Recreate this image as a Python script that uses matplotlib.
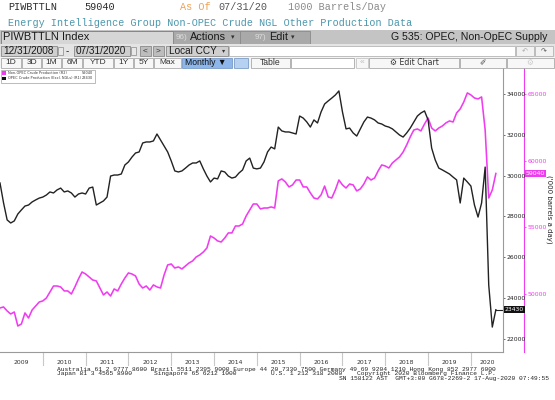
import matplotlib
matplotlib.use("Agg")
import matplotlib.pyplot as plt
import matplotlib.transforms as mtransforms
from matplotlib.patches import Rectangle

# ---------------- data (monthly, Dec 2008 .. Jul 2020) ----------------
start_label = "12/31/2008"
end_label = "07/31/2020"
years = ["2009", "2010", "2011", "2012", "2013", "2014", "2015", "2016",
         "2017", "2018", "2019", "2020"]

opec = [29640, 28660, 27830, 27680, 27780, 28120, 28320, 28510, 28560, 28710,
        28810, 28900, 28950, 29050, 29200, 29150, 29300, 29390, 29200, 29250,
        29150, 28950, 29100, 29150, 29100, 29390, 29440, 28560, 28660, 28760,
        28950, 29980, 30030, 30030, 30080, 30520, 30670, 30910, 31110, 31160,
        31600, 31650, 31650, 31700, 32040, 31750, 31450, 31160, 30720, 30230,
        30180, 30230, 30370, 30520, 30620, 30620, 30720, 30330, 29980, 29690,
        29880, 29840, 30230, 30180, 29980, 29880, 29930, 30130, 30280, 30720,
        30860, 30370, 30330, 30370, 30670, 31160, 31400, 31310, 32380, 32190,
        32140, 32140, 32090, 32040, 32920, 32820, 32630, 32380, 32730, 32580,
        33120, 33510, 33660, 33800, 33950, 34150, 33120, 32290, 32330, 32090,
        31940, 32290, 32630, 32870, 32820, 32730, 32580, 32530, 32430, 32380,
        32290, 32140, 31990, 31890, 32090, 32330, 32630, 32920, 33070, 33170,
        32730, 31350, 30770, 30370, 30280, 30180, 30080, 29930, 29790, 28660,
        29880, 29690, 29490, 28560, 27970, 28660, 30420, 24640, 22580, 23430]

non_opec = [48950, 49030, 48730, 48500, 48650, 47600, 47750, 48580, 48200, 48800,
            49100, 49400, 49480, 49700, 50150, 50600, 50600, 50530, 50230, 50230,
            50000, 50530, 51130, 51650, 51500, 51280, 51050, 50980, 50450, 49930,
            50150, 49850, 50380, 50230, 50750, 51200, 51580, 51500, 51350, 50750,
            50450, 50600, 50300, 50680, 50530, 50450, 51430, 52180, 52250, 51950,
            52030, 51880, 52100, 52330, 52480, 52780, 52930, 53150, 53450, 54350,
            54200, 53980, 53900, 54200, 54580, 54580, 55100, 55100, 55250, 55850,
            56300, 56750, 56750, 56380, 56450, 56450, 56530, 56450, 58480, 58630,
            58400, 58030, 58180, 58550, 58550, 58030, 58030, 57580, 57200, 57130,
            57430, 58100, 57280, 57200, 57800, 58550, 58180, 57950, 58250, 58180,
            57730, 57880, 58250, 58780, 58550, 58700, 59230, 59680, 59600, 59450,
            59830, 60050, 60280, 60650, 61180, 61780, 62300, 62380, 62230, 62750,
            63200, 62450, 62230, 62450, 62600, 62830, 62980, 62900, 63580, 63880,
            64400, 65080, 64930, 64700, 64630, 64780, 62300, 57200, 57800, 59040]

opec_ticks = [22000, 24000, 26000, 28000, 30000, 32000, 34000]
nonopec_ticks = [50000, 55000, 60000, 65000]
opec_name = "OPEC Crude Production (Excl. NGLs) (R1)"
nonopec_name = "Non-OPEC Crude Production (R2)"

PINK = "#f03cf0"
BLACK = "#222222"
GRAYLINE = "#9a9a9a"

W, H = 555, 400
fig = plt.figure(figsize=(W / 100, H / 100), dpi=100)
fig.patch.set_facecolor("white")


def X(px):
    return px / W


def Y(py):
    return 1 - py / H


def frect(x0, y0, x1, y1, fc, ec="none", lw=0.6, z=1):
    fig.patches.append(Rectangle((X(x0), Y(y1)), X(x1) - X(x0), Y(y0) - Y(y1),
                                 transform=fig.transFigure, facecolor=fc,
                                 edgecolor=ec, linewidth=lw, zorder=z))


def ftext(px, py, s, **kw):
    kw.setdefault("va", "center")
    fig.text(X(px), Y(py), s, **kw)


MONO = "Liberation Mono"
SANS = "Liberation Sans"

# ---------------- header lines ----------------
ftext(8, 7, "PIWBTTLN", family=MONO, fontsize=7.3, color="#2a2a2a")
ftext(84, 7, "59040", family=MONO, fontsize=7.3, color="#2a2a2a")
ftext(180, 7, "As Of", family=MONO, fontsize=7.3, color="#f0a050")
ftext(218, 7, "07/31/20", family=MONO, fontsize=7.3, color="#555555")
ftext(288, 7, "1000 Barrels/Day", family=MONO, fontsize=7.3, color="#8a8a8a")
ftext(8, 23, "Energy Intelligence Group Non-OPEC Crude NGL Other Production Data",
      family=MONO, fontsize=7.3, color="#4b97ad")

# ---------------- toolbar row 3 ----------------
frect(0, 30, 555, 44, "#c4c4c4")
frect(0.5, 30.5, 173, 43.5, "#d6d6d6", ec="#7a7a7a")
ftext(3, 37.2, "PIWBTTLN Index", family=SANS, fontsize=8.0, color="#1a1a1a")
frect(173, 30.5, 240, 43.5, "#a9a9a9", ec="#8a8a8a")
ftext(176, 37.2, "96)", family=SANS, fontsize=5.8, color="#dddddd")
ftext(190, 37.2, "Actions", family=SANS, fontsize=7.8, color="#1a1a1a")
ftext(231, 37.5, "\u25be", family="DejaVu Sans", fontsize=5, color="#333333")
frect(240, 30.5, 310, 43.5, "#a9a9a9", ec="#8a8a8a")
ftext(255, 37.2, "97)", family=SANS, fontsize=5.8, color="#dddddd")
ftext(269, 37.2, "Edit", family=SANS, fontsize=7.8, color="#1a1a1a")
ftext(291, 37.5, "\u25be", family="DejaVu Sans", fontsize=5, color="#333333")
ftext(547, 37.2, "G 535: OPEC, Non-OpEC Supply", family=SANS, fontsize=7.6,
      color="#1a1a1a", ha="right")

# ---------------- toolbar row 4 ----------------
frect(0, 44, 555, 57, "#e4e4e4")
frect(1, 45.5, 57, 56, "#cfcfcf", ec="#8a8a8a")
ftext(3, 51, start_label, family=SANS, fontsize=7.2, color="#1a1a1a")
frect(57.5, 46.5, 63, 55, "#e8e8e8", ec="#8a8a8a", lw=0.5)
ftext(66, 51, "-", family=SANS, fontsize=7, color="#1a1a1a")
frect(74, 45.5, 130, 56, "#cfcfcf", ec="#8a8a8a")
ftext(76, 51, end_label, family=SANS, fontsize=7.2, color="#1a1a1a")
frect(130.5, 46.5, 136, 55, "#e8e8e8", ec="#8a8a8a", lw=0.5)
frect(140, 46, 151, 55.5, "#bdbdbd", ec="#8a8a8a")
ftext(145.5, 50.7, "<", family=SANS, fontsize=6, color="#333333", ha="center")
frect(153, 46, 164, 55.5, "#bdbdbd", ec="#8a8a8a")
ftext(158.5, 50.7, ">", family=SANS, fontsize=6, color="#333333", ha="center")
frect(166, 45.5, 228, 56, "#cfcfcf", ec="#8a8a8a")
ftext(169, 51, "Local CCY", family=SANS, fontsize=7.2, color="#1a1a1a")
ftext(222, 51, "\u25be", family="DejaVu Sans", fontsize=4.5, color="#333333")
frect(229, 45.5, 515, 56, "white", ec="#aaaaaa", lw=0.5)
frect(516, 45.5, 534, 56, "#f2f2f2", ec="#aaaaaa", lw=0.5)
frect(535, 45.5, 553, 56, "#f2f2f2", ec="#aaaaaa", lw=0.5)
ftext(525, 51, "\u21b6", family="DejaVu Sans", fontsize=5, color="#aaaaaa", ha="center")
ftext(544, 51, "\u21b7", family="DejaVu Sans", fontsize=5, color="#555555", ha="center")

# ---------------- toolbar row 5 ----------------
frect(0, 57, 555, 68, "#f4f4f4")
buttons = [(1, 21, "1D"), (22, 41, "3D"), (42, 61, "1M"), (62, 82, "6M"),
           (83, 113, "YTD"), (114, 133, "1Y"), (134, 153, "5Y"), (154, 181, "Max")]
for x0, x1, lab in buttons:
    frect(x0, 58, x1, 67.5, "#f7f7f7", ec="#9a9a9a", lw=0.5)
    ftext((x0 + x1) / 2, 62.8, lab, family=SANS, fontsize=6.0, color="#333333",
          ha="center")
frect(182, 58, 232, 67.5, "#8db7ea", ec="#6a8fc0", lw=0.5)
ftext(185, 62.8, "Monthly \u25bc", family=SANS, fontsize=6.2, color="#111111")
frect(234, 58, 248, 67.5, "#b7d1f0", ec="#6a8fc0", lw=0.5)
frect(251, 58, 290, 67.5, "#f7f7f7", ec="#9a9a9a", lw=0.5)
ftext(270.5, 62.8, "Table", family=SANS, fontsize=6.2, color="#333333", ha="center")
frect(291, 58, 354, 67.5, "white", ec="#9a9a9a", lw=0.5)
frect(356, 58, 368, 67.5, "#f7f7f7", ec="#bbbbbb", lw=0.5)
ftext(362, 62.8, "\u00ab", family=SANS, fontsize=6, color="#bbbbbb", ha="center")
frect(369, 58, 459, 67.5, "#f7f7f7", ec="#9a9a9a", lw=0.5)
ftext(414, 62.8, "\u2699 Edit Chart", family="DejaVu Sans", fontsize=5.6,
      color="#333333", ha="center")
frect(460, 58, 506, 67.5, "#f7f7f7", ec="#9a9a9a", lw=0.5)
ftext(483, 62.8, "\u2710", family="DejaVu Sans", fontsize=5.5, color="#444444", ha="center")
frect(507, 58, 554, 67.5, "#f7f7f7", ec="#9a9a9a", lw=0.5)
ftext(530, 62.8, "\u2699", family="DejaVu Sans", fontsize=5.5, color="#cccccc", ha="center")

# ---------------- chart ----------------
TOP, BOT, RIGHT = 68, 352, 503
ax = fig.add_axes([X(0), Y(BOT), X(RIGHT), (BOT - TOP) / H])
ax.set_facecolor("white")
ax2 = ax.twinx()
ax.set_zorder(ax2.get_zorder() + 1)
ax.patch.set_visible(False)

months = list(range(len(opec)))
ax2.plot(months, non_opec, color=PINK, lw=1.15, solid_joinstyle="round")
ax.plot(months, opec, color=BLACK, lw=1.0, solid_joinstyle="round")

ax.set_xlim(0, 141)
ax.set_ylim(21358, 35274)
ax2.set_ylim(45650, 66950)

for a in (ax, ax2):
    for s in ("left", "top"):
        a.spines[s].set_visible(False)
    a.set_xticks([])
ax.spines["bottom"].set_color(GRAYLINE)
ax.spines["bottom"].set_linewidth(0.8)
ax2.spines["bottom"].set_visible(False)
ax.spines["right"].set_color(GRAYLINE)
ax.spines["right"].set_linewidth(0.8)

ax.yaxis.tick_right()
ax.set_yticks(opec_ticks)
ax.set_yticklabels([str(t) for t in opec_ticks])
ax.tick_params(axis="y", length=1.6, width=0.6, color="#555555", pad=1.0,
               labelsize=4.4, labelcolor="#222222")

ax2.spines["right"].set_position(("axes", 524 / RIGHT))
ax2.spines["right"].set_color(PINK)
ax2.spines["right"].set_linewidth(0.8)
ax2.set_yticks(nonopec_ticks)
ax2.set_yticklabels([str(t) for t in nonopec_ticks])
ax2.tick_params(axis="y", length=1.6, width=0.6, color=PINK, pad=1.0,
                labelsize=4.4, labelcolor=PINK)

fig.text(X(549), Y(209), "('000 barrels a day)", rotation=270, fontsize=5.0,
         color="#222222", ha="center", va="center", family="DejaVu Sans")

# year separators and labels
blend = mtransforms.blended_transform_factory(ax.transData, ax.transAxes)
dy = 13 / (BOT - TOP)
for k in range(1, len(years)):
    ax.plot([12 * k, 12 * k], [0, -dy], transform=blend, color="#c8c8c8",
            lw=0.8, clip_on=False)
for k, yr in enumerate(years):
    c = 12 * k + 6 if k < len(years) - 1 else (12 * k + 141) / 2
    ax.text(c, -10 / (BOT - TOP), yr, transform=blend, ha="center", va="center",
            fontsize=4.4, color="#333333")

# last-value labels
last_o = opec[-1]
last_n = non_opec[-1]
ax.plot([months[-1], 141], [last_o, last_o], color=BLACK, lw=0.8, clip_on=False)
ax.annotate(str(last_o), xy=(1.0, last_o), xycoords=("axes fraction", "data"),
            xytext=(1.3, 0), textcoords="offset points", ha="left", va="center",
            fontsize=4.4, color="white",
            bbox=dict(boxstyle="square,pad=0.15", fc="#111111", ec="none"))
ax2.annotate(str(last_n), xy=(524 / RIGHT, last_n), xycoords=("axes fraction", "data"),
             xytext=(1.3, 0), textcoords="offset points", ha="left", va="center",
             fontsize=4.4, color="white",
             bbox=dict(boxstyle="square,pad=0.15", fc=PINK, ec="none"))

# legend box
frect(0.5, 70, 95, 83, "white", ec="#a0a0a0", lw=0.5, z=5)
frect(2, 71.5, 5.5, 75, PINK, z=6)
frect(2, 76.5, 5.5, 80, "#111111", z=6)
fig.text(X(7.5), Y(73.3), nonopec_name, fontsize=2.5, color="#333333", va="center", zorder=7)
fig.text(X(7.5), Y(78.3), opec_name, fontsize=2.5, color="#333333", va="center", zorder=7)
fig.text(X(93), Y(73.3), str(last_n), fontsize=2.5, color="#333333", va="center",
         ha="right", zorder=7)
fig.text(X(93), Y(78.3), str(last_o), fontsize=2.5, color="#333333", va="center",
         ha="right", zorder=7)

# footer
FOOT = "#222222"
ftext(57, 370, "Australia 61 2 9777 8600 Brazil 5511 2395 9000 Europe 44 20 7330 7500 "
      "Germany 49 69 9204 1210 Hong Kong 852 2977 6000", family=MONO, fontsize=4.5,
      color=FOOT)
ftext(57, 373.8, "Japan 81 3 4565 8900", family=MONO, fontsize=4.5, color=FOOT)
ftext(154, 373.8, "Singapore 65 6212 1000", family=MONO, fontsize=4.5, color=FOOT)
ftext(271, 373.8, "U.S. 1 212 318 2000", family=MONO, fontsize=4.5, color=FOOT)
ftext(357, 373.8, "Copyright 2020 Bloomberg Finance L.P.", family=MONO, fontsize=4.5,
      color=FOOT)
ftext(549, 378.5, "SN 158122 AST  GMT+3:00 G678-2269-2 17-Aug-2020 07:49:55",
      family=MONO, fontsize=4.5, color=FOOT, ha="right")

fig.savefig("out.png", dpi=100, facecolor="white")
